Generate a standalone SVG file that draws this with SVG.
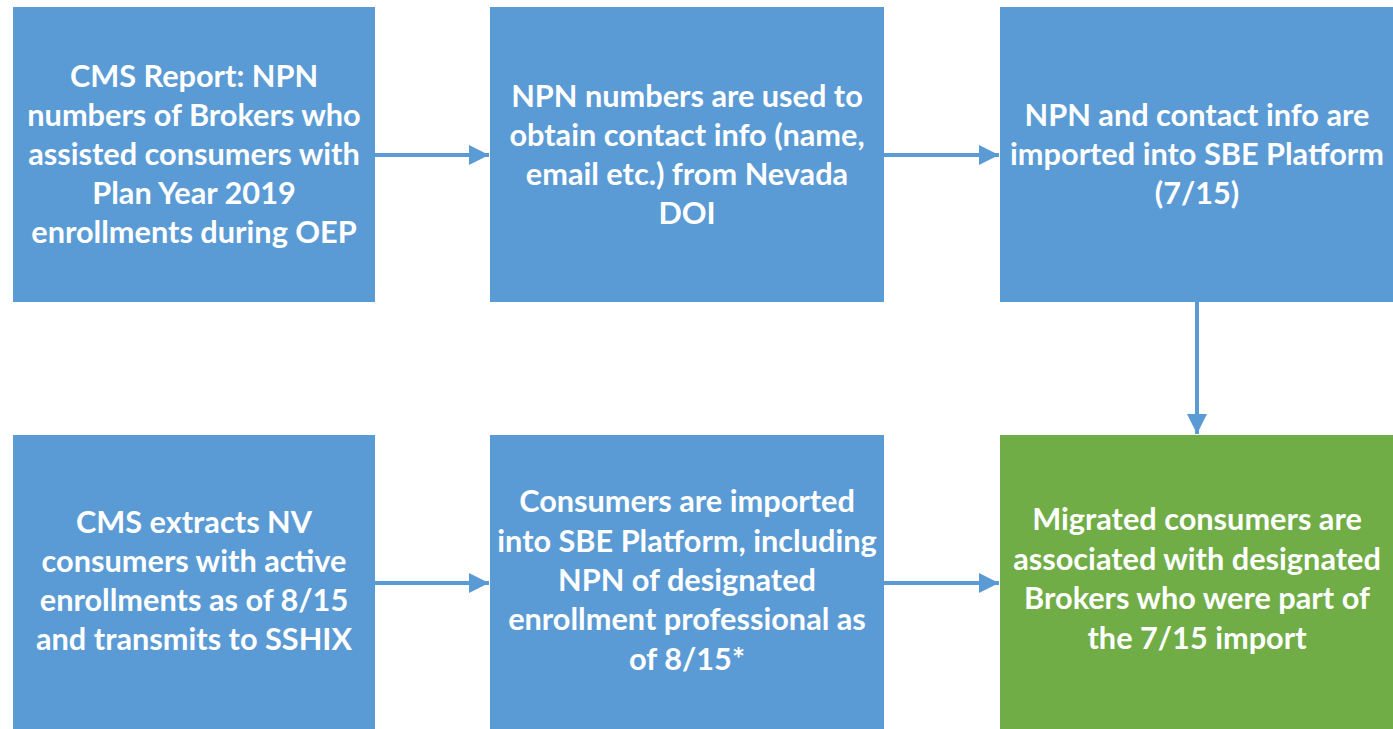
<svg xmlns="http://www.w3.org/2000/svg" width="1393" height="729" viewBox="0 0 1393 729">
  <style>
    .box { fill: #5B9BD5; }
    .box.done { fill: #70AD47; }
    .label { font-family: "Lato", "Liberation Sans", sans-serif; font-weight: 700; font-size: 30.7px; fill: #FFFFFF; text-anchor: middle; }
    .conn { stroke: #5B9BD5; stroke-width: 4; fill: none; }
  </style>
  <defs>
    <marker id="head" viewBox="0 0 20 20" refX="20" refY="10" markerUnits="userSpaceOnUse" markerWidth="20" markerHeight="20" orient="auto">
      <path d="M0,0 L20,10 L0,20 Z" fill="#5B9BD5"/>
    </marker>
  </defs>
  <rect width="1393" height="729" fill="#FFFFFF"/>

  <g id="connectors">
    <line class="conn" x1="375" y1="155" x2="489" y2="155" marker-end="url(#head)"/>
    <line class="conn" x1="884" y1="155" x2="999" y2="155" marker-end="url(#head)"/>
    <line class="conn" x1="1197" y1="302" x2="1197" y2="434" marker-end="url(#head)"/>
    <line class="conn" x1="375" y1="583" x2="489" y2="583" marker-end="url(#head)"/>
    <line class="conn" x1="884" y1="583" x2="999" y2="583" marker-end="url(#head)"/>
  </g>

  <g id="cms-report">
    <rect class="box" x="13" y="7" width="362" height="295"/>
    <text class="label" x="194" y="87">CMS Report: NPN</text>
    <text class="label" x="194" y="126">numbers of Brokers who</text>
    <text class="label" x="194" y="165">assisted consumers with</text>
    <text class="label" x="194" y="204">Plan Year 2019</text>
    <text class="label" x="194" y="243">enrollments during OEP</text>
  </g>

  <g id="npn-lookup">
    <rect class="box" x="490" y="7" width="394" height="295"/>
    <text class="label" x="687" y="107">NPN numbers are used to</text>
    <text class="label" x="687" y="146">obtain contact info (name,</text>
    <text class="label" x="687" y="185">email etc.) from Nevada</text>
    <text class="label" x="687" y="224">DOI</text>
  </g>

  <g id="npn-import">
    <rect class="box" x="1000" y="7" width="393" height="295"/>
    <text class="label" x="1197" y="126">NPN and contact info are</text>
    <text class="label" x="1197" y="165">imported into SBE Platform</text>
    <text class="label" x="1197" y="204">(7/15)</text>
  </g>

  <g id="cms-extract">
    <rect class="box" x="13" y="435" width="362" height="294"/>
    <text class="label" x="194" y="533">CMS extracts NV</text>
    <text class="label" x="194" y="572">consumers with active</text>
    <text class="label" x="194" y="611">enrollments as of 8/15</text>
    <text class="label" x="194" y="650">and transmits to SSHIX</text>
  </g>

  <g id="consumer-import">
    <rect class="box" x="490" y="435" width="394" height="294"/>
    <text class="label" x="687" y="512">Consumers are imported</text>
    <text class="label" x="687" y="552">into SBE Platform, including</text>
    <text class="label" x="687" y="591">NPN of designated</text>
    <text class="label" x="687" y="630">enrollment professional as</text>
    <text class="label" x="687" y="670">of 8/15*</text>
  </g>

  <g id="association">
    <rect class="box done" x="1000" y="435" width="393" height="294"/>
    <text class="label" x="1197" y="530">Migrated consumers are</text>
    <text class="label" x="1197" y="570">associated with designated</text>
    <text class="label" x="1197" y="609">Brokers who were part of</text>
    <text class="label" x="1197" y="649">the 7/15 import</text>
  </g>
</svg>
